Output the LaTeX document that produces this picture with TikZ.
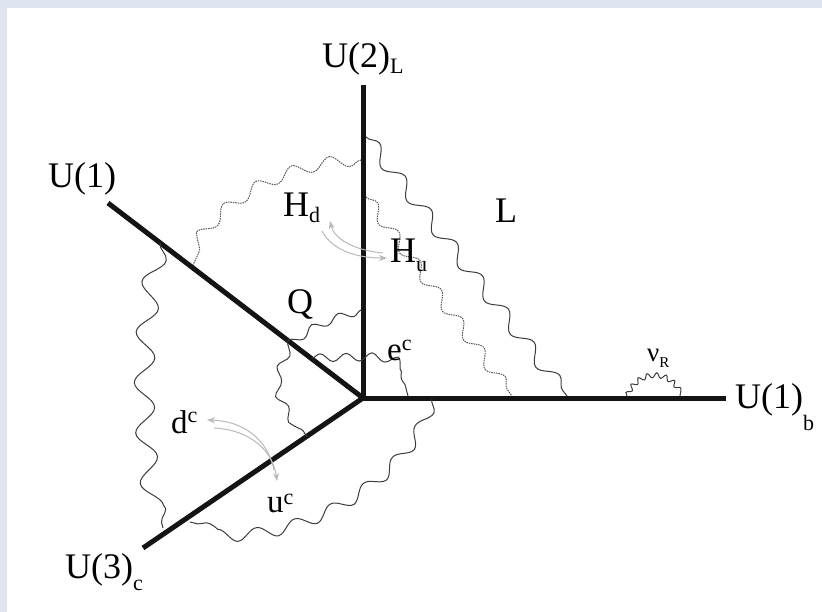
\documentclass[tikz,border=0pt]{standalone}
\usepackage{fontspec}
\setmainfont{Liberation Serif}
\usetikzlibrary{decorations.pathmorphing,arrows.meta}
\definecolor{bgblue}{RGB}{222,229,240}
\definecolor{wavecol}{RGB}{60,60,60}
\definecolor{arrowgray}{RGB}{185,185,185}
\newcommand{\lowtx}[2]{\raisebox{-#1pt}{\fontsize{22}{22}\selectfont #2}}
\newcommand{\hightx}[2]{\raisebox{#1pt}{\fontsize{22}{22}\selectfont #2}}
\begin{document}
\begin{tikzpicture}[x=1pt,y=-1pt,
  brane/.style={line width=5pt, draw=black!92},
  wave/.style={draw=wavecol, line width=1pt, decorate},
  dwave/.style={draw=wavecol!85, line width=1pt, decorate, dash pattern=on 1.5pt off 0.9pt},
  garrow/.style={draw=arrowgray, line width=1pt, -{Stealth[length=8pt,width=6pt]}},
  big/.style={font=\fontsize{36}{36}\selectfont, inner sep=0pt, anchor=base west},
  mid/.style={font=\fontsize{33}{33}\selectfont, inner sep=0pt, anchor=base west},
  small/.style={font=\fontsize{27}{27}\selectfont, inner sep=0pt, anchor=base west}]
\useasboundingbox (0,0) rectangle (822,612);
\fill[bgblue] (0,0) rectangle (822,612);
\fill[white] (7,8) rectangle (822,612);

% branes
\coordinate (O) at (363,398);
\coordinate (eU2) at (363,85);
\coordinate (eU1) at (108,203);
\coordinate (eU1b) at (726,398);
\coordinate (eU3) at (143,548);
\draw[brane] (O) -- (eU2);
\draw[brane] (O) -- (eU1);
\draw[brane] (O) -- (eU1b);
\draw[brane] (O) -- (eU3);

% wave end points
\coordinate (Ls) at (366,137);  \coordinate (Le) at (567,396);
\coordinate (Hus) at (366,197); \coordinate (Hue) at (512,396);
\coordinate (Hds) at (361,160); \coordinate (Hde) at (193,265);
\coordinate (Qs) at (361,310);  \coordinate (Qm) at (293,344); \coordinate (Qe) at (307,437);
\coordinate (es) at (312,358);  \coordinate (em) at (363,357); \coordinate (ee) at (408,396);
\coordinate (ds) at (160,243);  \coordinate (de) at (163,528);
\coordinate (us) at (432,399);  \coordinate (ue) at (190,522);
\coordinate (ns) at (627,396);  \coordinate (ne) at (680,396);

\draw[wave, decoration={snake, amplitude=7pt, segment length=42pt}] (Ls) -- (Le);
\draw[dwave, decoration={snake, amplitude=6pt, segment length=36pt}] (Hus) -- (Hue);
\draw[dwave, decoration={snake, amplitude=6pt, segment length=38pt}] (Hds) .. controls (300,163) and (225,195) .. (Hde);
\draw[wave, decoration={snake, amplitude=4pt, segment length=28pt}] (Qs) .. controls (325,322) .. (Qm) .. controls (275,385) .. (Qe);
\draw[wave, decoration={snake, amplitude=4pt, segment length=26pt}] (es) -- (em) .. controls (398,360) .. (ee);
\draw[wave, decoration={snake, amplitude=10pt, segment length=50pt}] (ds) .. controls (140,330) and (145,450) .. (de);
\draw[wave, decoration={snake, amplitude=6pt, segment length=40pt}] (us) .. controls (410,470) and (300,545) .. (ue);
\draw[wave, decoration={snake, amplitude=2.5pt, segment length=9pt}] (ns) .. controls (638,371) and (670,371) .. (ne);

% labels
\node[big] (lU2) at (322,68) {U(2)\lowtx{6}{L}};
\node[big] (lU1) at (48,188) {U(1)};
\node[big] (lU1b) at (735,408) {U(1)\lowtx{22}{b}};
\node[big] (lU3) at (65,578) {U(3)\lowtx{12}{c}};
\node[big] (lQ) at (287,314) {Q};
\node[big] (lHd) at (283,217) {H\lowtx{6}{d}};
\node[big] (lHu) at (390,263) {H\lowtx{9}{u}};
\node[big] (lL) at (495,223) {L};
\node[mid] (lec) at (387,360) {e\hightx{10}{c}};
\node[mid] (ldc) at (171,433) {d\hightx{11}{c}};
\node[mid] (luc) at (267,512) {u\hightx{8}{c}};
\node[small] (lnu) at (647,361) {ν\raisebox{-6pt}{\fontsize{15}{15}\selectfont R}};

% gray arrows
\coordinate (a1s) at (383,253); \coordinate (a1e) at (330,221);
\coordinate (a2s) at (322,231); \coordinate (a2e) at (387,258);
\draw[garrow] (a1s) .. controls (352,250) and (334,238) .. (a1e);
\draw[garrow] (a2s) .. controls (332,250) and (356,258) .. (a2e);
\coordinate (b1s) at (274,470); \coordinate (b1e) at (207,420);
\coordinate (b2s) at (214,428); \coordinate (b2e) at (277,481);
\draw[garrow] (b1s) .. controls (268,440) and (244,421) .. (b1e);
\draw[garrow] (b2s) .. controls (252,430) and (273,452) .. (b2e);
\end{tikzpicture}
\end{document}
